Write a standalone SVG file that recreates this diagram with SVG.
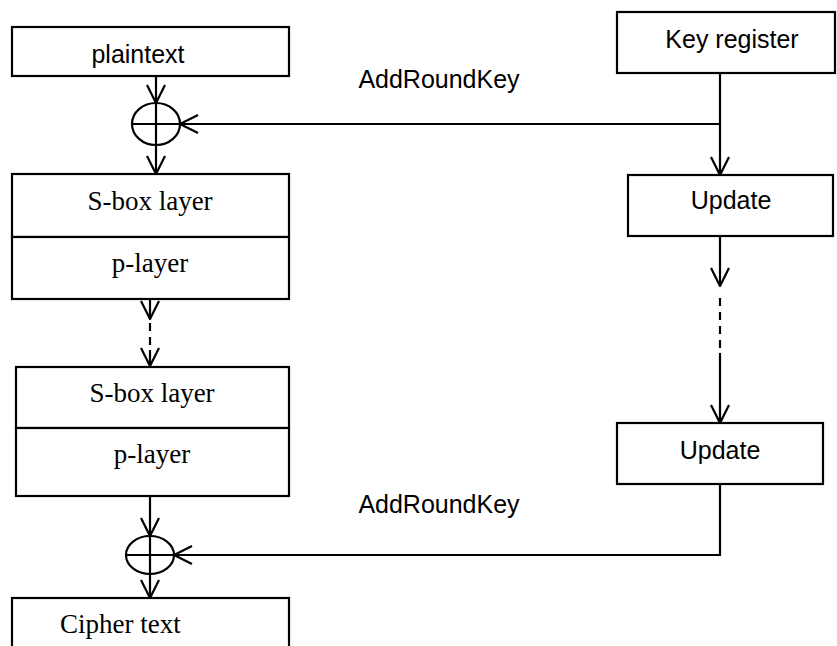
<svg xmlns="http://www.w3.org/2000/svg" width="837" height="646" viewBox="0 0 837 646">
<style>
.box{fill:#fff;stroke:#000;stroke-width:2.2}
.ln{fill:none;stroke:#000;stroke-width:2.2}
.dash{fill:none;stroke:#000;stroke-width:2.2;stroke-dasharray:8 6}
.sans{font-family:"Liberation Sans",Arial,sans-serif;font-size:25px;fill:#000}
.serif{font-family:"Liberation Serif","Times New Roman",serif;font-size:27px;fill:#000}
</style>
<defs>
<marker id="arr" markerUnits="userSpaceOnUse" markerWidth="20" markerHeight="22" viewBox="0 0 20 22" refX="19" refY="11" orient="auto">
<path d="M1,2 L19,11 L1,20" fill="none" stroke="#000" stroke-width="2.2"/>
</marker>
</defs>
<rect width="837" height="646" fill="#fff"/>
<g id="connectors">
<line class="ln" x1="156" y1="76" x2="156" y2="103" marker-end="url(#arr)"/>
<line class="ln" x1="156" y1="145" x2="156" y2="174" marker-end="url(#arr)"/>
<line class="ln" x1="720" y1="73" x2="720" y2="175" marker-end="url(#arr)"/>
<line class="ln" x1="720" y1="124" x2="180" y2="124" marker-end="url(#arr)"/>
<line class="ln" x1="720" y1="236" x2="720" y2="286" marker-end="url(#arr)"/>
<line class="dash" x1="720" y1="298" x2="720" y2="350"/>
<line class="ln" x1="720" y1="353" x2="720" y2="423" marker-end="url(#arr)"/>
<line class="ln" x1="150" y1="299" x2="150" y2="319" marker-end="url(#arr)"/>
<line class="dash" x1="150" y1="323" x2="150" y2="350"/>
<line class="ln" x1="150" y1="350" x2="150" y2="366" marker-end="url(#arr)"/>
<line class="ln" x1="150" y1="496" x2="150" y2="536" marker-end="url(#arr)"/>
<line class="ln" x1="150" y1="574" x2="150" y2="598" marker-end="url(#arr)"/>
<polyline class="ln" points="720,484 720,555 174,555" marker-end="url(#arr)"/>
</g>
<g id="plaintext">
<rect class="box" x="12" y="27" width="277" height="49"/>
<text class="sans" x="138" y="63" text-anchor="middle">plaintext</text>
</g>
<g id="xor1">
<ellipse class="ln" cx="156" cy="124" rx="24" ry="21"/>
<line class="ln" x1="132" y1="124" x2="180" y2="124"/>
<line class="ln" x1="156" y1="103" x2="156" y2="145"/>
</g>
<g id="label-addroundkey-1">
<text class="sans" x="439" y="88" text-anchor="middle">AddRoundKey</text>
</g>
<g id="keyregister">
<rect class="box" x="617" y="12" width="218" height="61"/>
<text class="sans" x="732" y="48" text-anchor="middle">Key register</text>
</g>
<g id="update1">
<rect class="box" x="628" y="175" width="205" height="61"/>
<text class="sans" x="731" y="209" text-anchor="middle">Update</text>
</g>
<g id="round1">
<rect class="box" x="12" y="174" width="277" height="63"/>
<text class="serif" x="150" y="210" text-anchor="middle">S-box layer</text>
<rect class="box" x="12" y="237" width="277" height="62"/>
<text class="serif" x="150" y="272" text-anchor="middle">p-layer</text>
</g>
<g id="round2">
<rect class="box" x="16" y="367" width="273" height="61"/>
<text class="serif" x="152" y="402" text-anchor="middle">S-box layer</text>
<rect class="box" x="16" y="428" width="273" height="68"/>
<text class="serif" x="152" y="463" text-anchor="middle">p-layer</text>
</g>
<g id="update2">
<rect class="box" x="617" y="423" width="206" height="61"/>
<text class="sans" x="720" y="459" text-anchor="middle">Update</text>
</g>
<g id="label-addroundkey-2">
<text class="sans" x="439" y="513" text-anchor="middle">AddRoundKey</text>
</g>
<g id="xor2">
<ellipse class="ln" cx="150" cy="555" rx="24" ry="19"/>
<line class="ln" x1="126" y1="555" x2="174" y2="555"/>
<line class="ln" x1="150" y1="536" x2="150" y2="574"/>
</g>
<g id="ciphertext">
<rect class="box" x="12" y="598" width="277" height="60"/>
<text class="serif" x="60" y="633">Cipher text</text>
</g>
</svg>
